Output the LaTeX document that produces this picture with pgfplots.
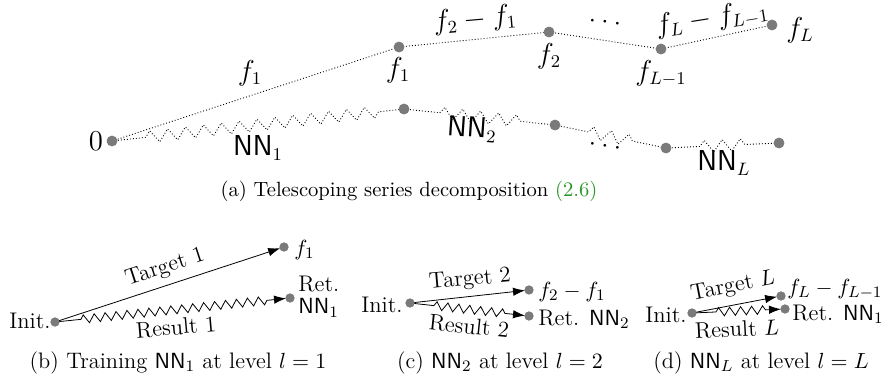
\documentclass[border=0pt]{standalone}
\usepackage{pgfplots}
\pgfplotsset{compat=1.18}
\usetikzlibrary{decorations.pathmorphing,arrows.meta}
\definecolor{dotgray}{RGB}{122,122,122}
\definecolor{linkgreen}{RGB}{40,150,40}

\tikzset{
  dotln/.style={black, line width=0.45pt, dash pattern=on 0.45pt off 1.05pt},
  wig/.style n args={2}{decorate, decoration={zigzag, amplitude=3pt, segment length=9pt, pre length=#1, post length=#2}},
  swig/.style n args={2}{decorate, decoration={zigzag, amplitude=2.1pt, segment length=5.5pt, pre length=#1, post length=#2}},
  tip/.style={-{Latex[length=6pt,width=4.2pt]}, shorten >=2pt},
  big/.style={font=\fontsize{13.5}{16}\selectfont, inner sep=0.5pt},
  lab/.style={font=\fontsize{11.3}{13}\selectfont},
  subcap/.style={font=\fontsize{11.2}{13}\selectfont},
}

\begin{document}
\begin{tikzpicture}
\begin{axis}[
  scale only axis, width=440.5pt, height=190.5pt,
  xmin=0, xmax=881, ymin=0, ymax=381, y dir=reverse,
  hide axis, clip=false,
]
\coordinate (ll) at (axis cs:0,381);
\coordinate (ur) at (axis cs:881,0);

% --- (a) partial sums f_0=0, f_1, f_2, f_{L-1}, f_L
\addplot[dotln] coordinates {(112,141) (399,47) (549,32) (661,49) (772,25)};

% --- networks approximating each increment
\addplot[dotln, wig={17pt}{11pt}] coordinates {(112,141) (404,109)};
\addplot[dotln, wig={18pt}{14pt}] coordinates {(404,109) (555,125)};
\addplot[dotln, wig={17pt}{13pt}] coordinates {(555,125) (666,148)};
\addplot[dotln, wig={17pt}{13pt}] coordinates {(666,148) (779,143)};

\addplot[only marks, mark=*, mark size=2.5pt, dotgray] coordinates {
  (112,141) (399,47) (549,32) (661,49) (772,25)
  (404,109) (555,125) (666,148) (779,143)};

\node[big] at (axis cs:96,141) {$0$};
\node[big] at (axis cs:250,73) {$f_1$};
\node[big] at (axis cs:398,70) {$f_1$};
\node[big, rotate=5] at (axis cs:475,20) {$f_2 - f_1$};
\node[big] at (axis cs:549,56) {$f_2$};
\node[big, rotate=-8] at (axis cs:605,22) {$\dots$};
\node[big, rotate=9] at (axis cs:712,19) {$f_L - f_{L-1}$};
\node[big] at (axis cs:661,73) {$f_{L-1}$};
\node[big] at (axis cs:800,30) {$f_L$};
\node[big] at (axis cs:258,148) {$\mathsf{NN}_1$};
\node[big, rotate=-4] at (axis cs:472,129) {$\mathsf{NN}_2$};
\node[big, rotate=-10] at (axis cs:605,146) {$\dots$};
\node[big] at (axis cs:724,163) {$\mathsf{NN}_L$};

\node[font=\fontsize{10.3}{12}\selectfont] at (axis cs:409,191) {(a) Telescoping series decomposition \textcolor{linkgreen}{(2.6)}};

% --- (b) level 1
\addplot[thin, tip] coordinates {(55,322) (284,247)};
\addplot[thin, tip, swig={13pt}{9pt}] coordinates {(55,322) (290,298)};
\addplot[only marks, mark=*, mark size=2.1pt, dotgray] coordinates {(55,322) (284,247) (290,298)};
\node[lab, anchor=east, inner sep=0pt] at (axis cs:51,321) {Init.};
\node[lab, rotate=18] at (axis cs:165,268) {Target 1};
\node[lab, rotate=5] at (axis cs:176,327) {Result 1};
\node[lab, anchor=west, inner sep=0pt] at (axis cs:294,250) {$f_1$};
\node[lab, anchor=west, inner sep=0pt] at (axis cs:298,284) {Ret.};
\node[lab, anchor=west, inner sep=0pt] at (axis cs:298,308) {$\mathsf{NN}_1$};
\node[subcap] at (axis cs:178,363) {(b) Training $\mathsf{NN}_1$ at level $l=1$};

% --- (c) level 2
\addplot[thin, tip] coordinates {(410,303) (529,290)};
\addplot[thin, tip, swig={12pt}{10pt}] coordinates {(410,303) (529,316)};
\addplot[only marks, mark=*, mark size=2.1pt, dotgray] coordinates {(410,303) (529,290) (529,316)};
\node[lab, anchor=east, inner sep=0pt] at (axis cs:403,305) {Init.};
\node[lab, rotate=5] at (axis cs:470,280) {Target 2};
\node[lab, rotate=-6] at (axis cs:469,326) {Result 2};
\node[lab, anchor=west, inner sep=0pt] at (axis cs:538,292) {$f_2 - f_1$};
\node[lab, anchor=west, inner sep=0pt] at (axis cs:538,319) {Ret. $\mathsf{NN}_2$};
\node[subcap] at (axis cs:500,363) {(c) $\mathsf{NN}_2$ at level $l=2$};

% --- (d) level L
\addplot[thin, tip] coordinates {(692,313) (781,296)};
\addplot[thin, tip, swig={12pt}{9pt}] coordinates {(692,313) (785,309)};
\addplot[only marks, mark=*, mark size=2.1pt, dotgray] coordinates {(692,313) (781,296) (785,309)};
\node[lab, anchor=east, inner sep=0pt] at (axis cs:687,315) {Init.};
\node[lab, rotate=11] at (axis cs:733,287) {Target $L$};
\node[lab, rotate=3] at (axis cs:737,329) {Result $L$};
\node[lab, anchor=west, inner sep=0pt] at (axis cs:787,289) {$f_L - f_{L-1}$};
\node[lab, anchor=west, inner sep=0pt] at (axis cs:792,314) {Ret. $\mathsf{NN}_1$};
\node[subcap] at (axis cs:761,363) {(d) $\mathsf{NN}_L$ at level $l=L$};
\end{axis}
\pgfresetboundingbox
\path (ll) rectangle (ur);
\end{tikzpicture}
\end{document}
